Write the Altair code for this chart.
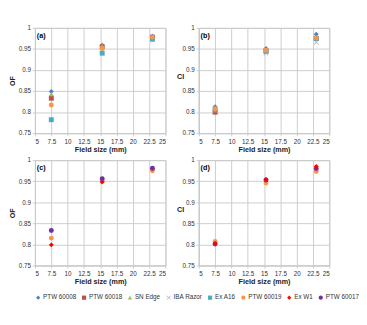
import altair as alt
import pandas as pd

field_sizes = [7.5, 15.3, 23.0]
series = ["PTW 60008", "PTW 60018", "SN Edge", "IBA Razor", "Ex A16",
          "PTW 60019", "Ex W1", "PTW 60017"]
colors = ["#4F81BD", "#C0504D", "#9BBB59", "#B3A2C7", "#4BACC6",
          "#F79646", "#FF0000", "#7030A0"]
xpath = "M-1,-0.8L-0.8,-1L0,-0.2L0.8,-1L1,-0.8L0.2,0L1,0.8L0.8,1L0,0.2L-0.8,1L-1,0.8L-0.2,0Z"
shapes = ["diamond", "square", "triangle-up", xpath, "square",
          "circle", "diamond", "circle"]

# panel (a) OF
a_vals = {
    "PTW 60008": [0.849, 0.959, 0.980],
    "PTW 60018": [0.833, 0.955, 0.978],
    "SN Edge": [0.843, 0.957, 0.978],
    "Ex A16": [0.782, 0.940, 0.973],
    "PTW 60019": [0.817, 0.951, 0.978],
}
# panel (b) CI
b_vals = {
    "PTW 60008": [0.813, 0.951, 0.985],
    "PTW 60018": [0.800, 0.945, 0.975],
    "SN Edge": [0.805, 0.947, 0.977],
    "IBA Razor": [0.805, 0.940, 0.966],
    "Ex A16": [0.806, 0.945, 0.975],
    "PTW 60019": [0.808, 0.947, 0.976],
}
# panel (c) OF
c_vals = {
    "PTW 60019": [0.815, 0.951, 0.975],
    "Ex W1": [0.799, 0.948, 0.980],
    "PTW 60017": [0.833, 0.956, 0.981],
}
# panel (d) CI
d_vals = {
    "PTW 60019": [0.807, 0.946, 0.973],
    "PTW 60017": [0.801, 0.953, 0.980],
    "Ex W1": [0.802, 0.954, 0.985],
}

x_ticks = [5, 7.5, 10, 12.5, 15, 17.5, 20, 22.5, 25]
y_ticks = [0.75, 0.8, 0.85, 0.9, 0.95, 1.0]


def to_df(vals):
    rows = []
    for s, ys in vals.items():
        for xv, yv in zip(field_sizes, ys):
            rows.append({"series": s, "x": xv, "y": yv})
    return pd.DataFrame(rows)


W, H = 145, 117
grid = "#C8C8C8"


def panel(vals, label, ytitle, vertical_title):
    df = to_df(vals)
    base = alt.Chart(df).mark_point(filled=True, size=30, opacity=1).encode(
        x=alt.X("x:Q", scale=alt.Scale(domain=[5, 25], nice=False),
                axis=alt.Axis(values=x_ticks, title="Field size (mm)",
                              labelExpr="format(datum.value, '~g')")),
        y=alt.Y("y:Q", scale=alt.Scale(domain=[0.75, 1.0], nice=False, zero=False),
                axis=alt.Axis(values=y_ticks, title=ytitle,
                              titleAngle=-90 if vertical_title else 0,
                              labelExpr="format(datum.value, '~g')")),
        color=alt.Color("series:N", scale=alt.Scale(domain=series, range=colors),
                        legend=alt.Legend(title=None, orient="bottom",
                                          direction="horizontal", columns=8,
                                          labelFontSize=7, symbolSize=22,
                                          columnPadding=5, symbolOffset=0,
                                          labelOffset=2, padding=0, offset=9)),
        shape=alt.Shape("series:N", scale=alt.Scale(domain=series, range=shapes)),
    )
    lab = alt.Chart(pd.DataFrame({"t": [label]})).mark_text(
        fontWeight="bold", fontSize=8, align="left", baseline="middle",
        font="Liberation Sans").encode(
        text="t:N", x=alt.value(2), y=alt.value(9))
    return alt.layer(base, lab).properties(width=W, height=H)


pa = panel(a_vals, "(a)", "OF", True)
pb = panel(b_vals, "(b)", "CI", False)
pc = panel(c_vals, "(c)", "OF", True)
pd_ = panel(d_vals, "(d)", "CI", False)

chart = alt.vconcat(
    alt.hconcat(pa, pb, spacing=10),
    alt.hconcat(pc, pd_, spacing=10),
    spacing=2,
).properties(padding=0).configure_view(stroke=grid).configure_axis(
    gridColor=grid, domainColor=grid, tickColor=grid, tickSize=3,
    labelFontSize=7, titleFontSize=8, titleFontWeight="bold",
    labelFont="Liberation Sans", titleFont="Liberation Sans",
    labelColor="#333333", titleColor="#222222", titlePadding=2, labelPadding=2,
).configure_legend(labelFont="Liberation Sans", labelColor="#333333")

chart.save("out.html", embed_options={"renderer": "svg", "actions": False})
